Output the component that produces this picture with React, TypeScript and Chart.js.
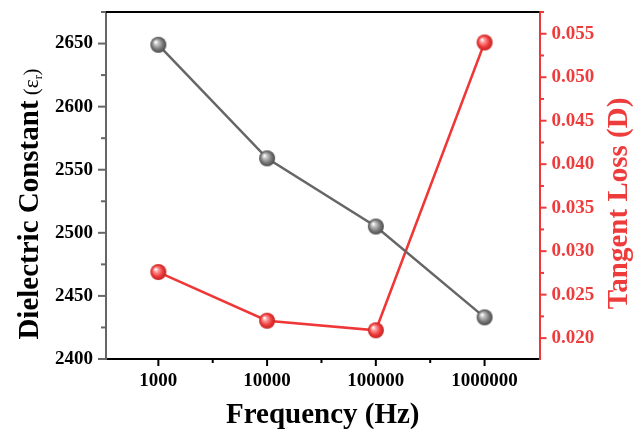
import React, { useEffect, useRef } from "react";
import { Chart, registerables } from "chart.js";

Chart.register(...registerables);

const frequencies = [1000, 10000, 100000, 1000000];
const dielectric = [2649, 2559, 2505, 2433];
const tangentLoss = [0.0276, 0.022, 0.0209, 0.054];

const xTicks = [1000, 3162, 10000, 31623, 100000, 316228, 1000000];
const leftTicks = [2400, 2425, 2450, 2475, 2500, 2525, 2550, 2575, 2600, 2625, 2650, 2675];
const rightTicks = [0.02, 0.0225, 0.025, 0.0275, 0.03, 0.0325, 0.035, 0.0375, 0.04, 0.0425, 0.045, 0.0475, 0.05, 0.0525, 0.055, 0.0575];

const FONT = "'Liberation Serif', 'Times New Roman', serif";
const GRAY = "rgb(102,102,102)";
const RED = "rgb(240,55,55)";
const RED_TEXT = "rgb(238,60,60)";

function makeSphere(light: string, base: string, dark: string, r: number) {
  const size = r * 2 + 2;
  const c = document.createElement("canvas");
  c.width = size;
  c.height = size;
  const g = c.getContext("2d")!;
  const cx = size / 2;
  const cy = size / 2;
  const grad = g.createRadialGradient(cx - r * 0.35, cy - r * 0.35, 0.5, cx, cy, r);
  grad.addColorStop(0, "#ffffff");
  grad.addColorStop(0.22, light);
  grad.addColorStop(0.65, base);
  grad.addColorStop(1, dark);
  g.fillStyle = grad;
  g.beginPath();
  g.arc(cx, cy, r, 0, Math.PI * 2);
  g.fill();
  return c;
}

const isPow10 = (v: number) => Math.abs(Math.log10(v) - Math.round(Math.log10(v))) < 1e-6;

const zeroPad = (s: any) => {
  s.paddingTop = 0;
  s.paddingBottom = 0;
  s.paddingLeft = 0;
  s.paddingRight = 0;
};

const customPlugin = {
  id: "customAxes",
  afterDraw(chart: any) {
    const { ctx, chartArea: a, scales } = chart;
    ctx.save();
    // top border
    ctx.lineWidth = 2;
    ctx.strokeStyle = "#000";
    ctx.beginPath();
    ctx.moveTo(a.left, a.top);
    ctx.lineTo(a.right, a.top);
    ctx.stroke();

    // x ticks
    ctx.lineWidth = 2;
    ctx.strokeStyle = "#000";
    for (const t of scales.x.ticks) {
      const px = scales.x.getPixelForValue(t.value);
      const len = isPow10(t.value) ? 7 : 4;
      ctx.beginPath();
      ctx.moveTo(px, a.bottom);
      ctx.lineTo(px, a.bottom + len);
      ctx.stroke();
    }
    // left ticks
    ctx.strokeStyle = GRAY;
    for (const t of scales.y.ticks) {
      const py = scales.y.getPixelForValue(t.value);
      const len = t.value % 50 === 0 ? 8 : 5;
      ctx.beginPath();
      ctx.moveTo(a.left, py);
      ctx.lineTo(a.left - len, py);
      ctx.stroke();
    }
    // right ticks
    ctx.strokeStyle = RED;
    scales.y1.ticks.forEach((t: any, i: number) => {
      const py = scales.y1.getPixelForValue(t.value);
      const len = i % 2 === 0 ? 7 : 4.5;
      ctx.beginPath();
      ctx.moveTo(a.right, py);
      ctx.lineTo(a.right + len, py);
      ctx.stroke();
    });

    // titles
    const cx = (a.left + a.right) / 2;
    ctx.fillStyle = "#000";
    ctx.font = `bold 29px ${FONT}`;
    ctx.textAlign = "center";
    ctx.textBaseline = "alphabetic";
    ctx.fillText("Frequency (Hz)", cx, 423);

    // left title
    ctx.save();
    const main = "Dielectric Constant";
    ctx.font = `bold 29px ${FONT}`;
    const w1 = ctx.measureText(main).width;
    ctx.font = `21px ${FONT}`;
    const wOpen = ctx.measureText(" (ε").width;
    ctx.font = `12px ${FONT}`;
    const wSub = ctx.measureText("r").width;
    ctx.font = `21px ${FONT}`;
    const wClose = ctx.measureText(")").width;
    const total = w1 + wOpen + wSub + wClose;
    const centerY = 204;
    ctx.translate(38, centerY + total / 2);
    ctx.rotate(-Math.PI / 2);
    ctx.textAlign = "left";
    ctx.font = `bold 29px ${FONT}`;
    ctx.fillText(main, 0, 0);
    ctx.font = `21px ${FONT}`;
    ctx.fillText(" (ε", w1, 0);
    ctx.font = `12px ${FONT}`;
    ctx.fillText("r", w1 + wOpen, 4);
    ctx.font = `21px ${FONT}`;
    ctx.fillText(")", w1 + wOpen + wSub, 0);
    ctx.restore();

    // right title
    ctx.save();
    ctx.fillStyle = RED_TEXT;
    ctx.font = `bold 29px ${FONT}`;
    ctx.translate(627, 203.5);
    ctx.rotate(-Math.PI / 2);
    ctx.textAlign = "center";
    ctx.fillText("Tangent Loss (D)", 0, 0);
    ctx.restore();

    ctx.restore();
  },
};

export default function App() {
  const ref = useRef<HTMLCanvasElement>(null);
  useEffect(() => {
    const grayBall = makeSphere("#c8c8c8", "#7a7a7a", "#4a4a4a", 8);
    const redBall = makeSphere("#ffa0a0", "#ee3c3c", "#c42020", 8);
    const chart = new Chart(ref.current!, {
      type: "line",
      data: {
        datasets: [
          {
            label: "Dielectric Constant",
            data: frequencies.map((f, i) => ({ x: f, y: dielectric[i] })),
            borderColor: GRAY,
            borderWidth: 2.5,
            pointStyle: grayBall as any,
            pointRadius: 8,
            yAxisID: "y",
          },
          {
            label: "Tangent Loss",
            data: frequencies.map((f, i) => ({ x: f, y: tangentLoss[i] })),
            borderColor: RED,
            borderWidth: 2.5,
            pointStyle: redBall as any,
            pointRadius: 8,
            yAxisID: "y1",
          },
        ],
      },
      options: {
        responsive: false,
        animation: false,
        layout: { padding: { top: 12, left: 0, right: 0, bottom: 0 } },
        plugins: { legend: { display: false }, tooltip: { enabled: false } },
        scales: {
          x: {
            type: "logarithmic",
            min: 330,
            max: 3200000,
            afterBuildTicks: (s: any) => {
              s.ticks = xTicks.map((v) => ({ value: v }));
            },
            afterFit: (s: any) => {
              s.height = 70;
              zeroPad(s);
            },
            ticks: {
              autoSkip: false,
              maxRotation: 0,
              padding: 4,
              color: "#000",
              font: { family: FONT, size: 19, weight: "bold" },
              callback: (v: any) => (isPow10(Number(v)) ? String(v) : ""),
            },
            grid: { display: true, drawOnChartArea: false, drawTicks: true, tickLength: 7, tickColor: "rgba(0,0,0,0)" },
            border: { display: true, color: "#000", width: 2 },
          },
          y: {
            type: "linear",
            position: "left",
            min: 2400,
            max: 2675,
            afterBuildTicks: (s: any) => {
              s.ticks = leftTicks.map((v) => ({ value: v }));
            },
            afterFit: (s: any) => {
              s.width = 106;
              zeroPad(s);
            },
            ticks: {
              autoSkip: false,
              padding: 5,
              color: "#000",
              font: { family: FONT, size: 19, weight: "bold" },
              callback: (v: any) => (Number(v) % 50 === 0 ? String(v) : ""),
            },
            grid: { display: true, drawOnChartArea: false, drawTicks: true, tickLength: 8, tickColor: "rgba(0,0,0,0)" },
            border: { display: true, color: GRAY, width: 2 },
          },
          y1: {
            type: "linear",
            position: "right",
            min: 0.0176,
            max: 0.0575,
            afterBuildTicks: (s: any) => {
              s.ticks = rightTicks.map((v) => ({ value: v }));
            },
            afterFit: (s: any) => {
              s.width = 93.5;
              zeroPad(s);
            },
            ticks: {
              autoSkip: false,
              padding: 5,
              color: RED_TEXT,
              font: { family: FONT, size: 19, weight: "bold" },
              callback: (v: any, i: number) => (i % 2 === 0 ? Number(v).toFixed(3) : ""),
            },
            grid: { display: true, drawOnChartArea: false, drawTicks: true, tickLength: 7, tickColor: "rgba(0,0,0,0)" },
            border: { display: true, color: RED, width: 2 },
          },
        },
      },
      plugins: [customPlugin],
    });
    return () => chart.destroy();
  }, []);
  return (
    <div style={{ position: "absolute", left: 0, top: 0, width: 633, height: 429, background: "#fff" }}>
      <canvas ref={ref} width={633} height={429} />
    </div>
  );
}
